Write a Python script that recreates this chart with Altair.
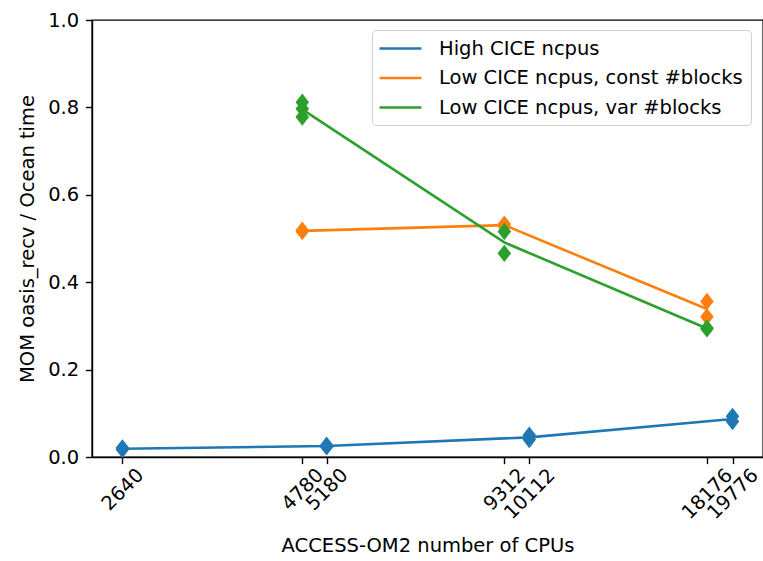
import altair as alt
import pandas as pd

# ---- data ----
series_names = ["High CICE ncpus",
                "Low CICE ncpus, const #blocks",
                "Low CICE ncpus, var #blocks"]
series_colors = ["#1f77b4", "#ff7f0e", "#2ca02c"]

high_x = [2640, 2640, 5180, 5180, 10112, 10112, 19776, 19776]
high_y = [0.017, 0.021, 0.023, 0.027, 0.040, 0.050, 0.081, 0.093]

const_x = [4780, 4780, 9312, 9312, 18176, 18176]
const_y = [0.516, 0.519, 0.528, 0.533, 0.321, 0.356]

var_x = [4780, 4780, 4780, 9312, 9312, 18176, 18176]
var_y = [0.812, 0.797, 0.778, 0.516, 0.466, 0.293, 0.295]

tick_values = [2640, 4780, 5180, 9312, 10112, 18176, 19776]
y_ticks = [0.0, 0.2, 0.4, 0.6, 0.8, 1.0]

rows = []
for name, xs, ys in zip(series_names, [high_x, const_x, var_x], [high_y, const_y, var_y]):
    for xv, yv in zip(xs, ys):
        rows.append({"series": name, "cpus": xv, "ratio": yv})
df = pd.DataFrame(rows)

FONT = "DejaVu Sans"
FS = 19.5
TICK = 6.65
THIN_DIAMOND = "M0,-1L0.78,0L0,1L-0.78,0Z"
XDOM = [2388, 21870]

x_enc = alt.X("cpus:Q",
              scale=alt.Scale(type="log", domain=XDOM, nice=False, zero=False),
              axis=alt.Axis(values=tick_values, format="d", labelAngle=-45,
                            labelAlign="center", labelBaseline="middle",
                            labelPadding={"condition": {"test": "length(datum.label) > 4", "value": 30},
                                          "value": 25.5},
                            labelOverlap=False, labelFlush=False,
                            title="ACCESS-OM2 number of CPUs", titlePadding=14,
                            grid=False, tickSize=TICK))
y_scale = alt.Scale(domain=[0, 1], nice=False, zero=False)
y_axis = alt.Axis(values=y_ticks, format=".1f", grid=False, tickSize=TICK,
                  labelPadding=6.65, title="MOM oasis_recv / Ocean time",
                  titlePadding=10)

color_scale = alt.Scale(domain=series_names, range=series_colors)

lines = alt.Chart(df).mark_line(strokeWidth=2.6).encode(
    x=x_enc,
    y=alt.Y("mean(ratio):Q", scale=y_scale, axis=y_axis),
    color=alt.Color("series:N", scale=color_scale, sort=series_names,
                    legend=alt.Legend(title=None, orient="none", legendX=280, legendY=10,
                                      padding=8, fillColor="white", strokeColor="#d0d0d0",
                                      cornerRadius=4, labelFontSize=FS, labelFont=FONT,
                                      labelColor="#000", labelLimit=0,
                                      symbolType="M-1.22,0H3.44",
                                      symbolSize=324, symbolStrokeWidth=2.6,
                                      labelOffset=38, rowPadding=9.5)),
    detail="series:N",
)

points = alt.Chart(df).mark_point(shape=THIN_DIAMOND, filled=True, size=300,
                                  opacity=1, strokeWidth=0).encode(
    x=alt.X("cpus:Q", scale=alt.Scale(type="log", domain=XDOM, nice=False, zero=False)),
    y=alt.Y("ratio:Q", scale=y_scale),
    fill=alt.Fill("series:N", scale=color_scale, legend=None),
)

chart = alt.layer(lines, points).properties(
    width=671, height=437,
    autosize=alt.AutoSizeParams(type="none"),
    padding={"left": 92, "top": 20, "right": 0, "bottom": 104},
    background="white",
).configure_view(stroke="#000", strokeWidth=1.4).configure_axis(
    labelFont=FONT, titleFont=FONT, labelFontSize=FS, titleFontSize=FS,
    labelColor="#000", titleColor="#000", titleFontWeight="normal",
    domainColor="#000", tickColor="#000", domainWidth=1.4, tickWidth=1.4,
)

chart.save("out.html", embed_options={"renderer": "svg", "actions": False})
